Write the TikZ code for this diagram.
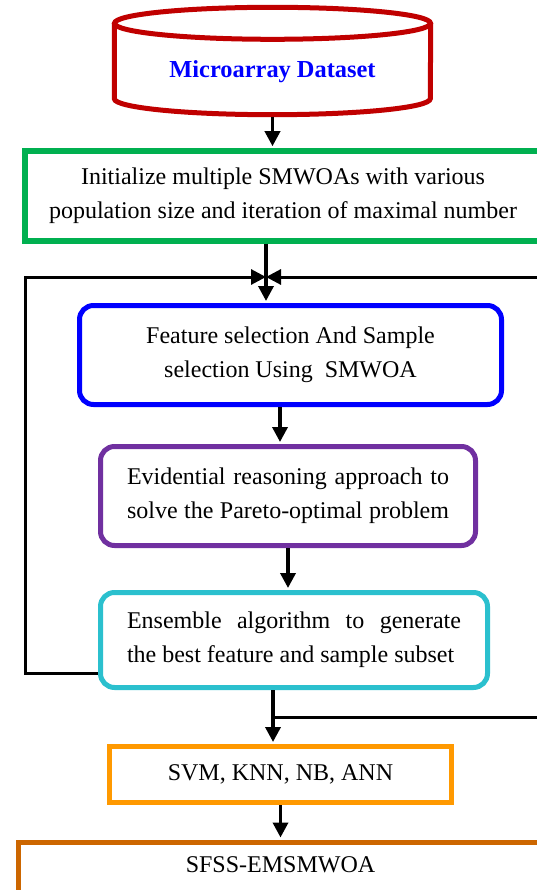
\documentclass[tikz,border=0pt]{standalone}
\usepackage{fontspec}
\setmainfont{Liberation Serif}
\usetikzlibrary{positioning,arrows.meta}
\definecolor{dbred}{HTML}{C00000}
\definecolor{initgreen}{HTML}{00B050}
\definecolor{erpurple}{HTML}{7030A0}
\definecolor{ensteal}{HTML}{2BC0CE}
\definecolor{clforange}{HTML}{FF9900}
\definecolor{outbrown}{HTML}{CC6600}
\tikzset{
	every node/.style = {font=\fontsize{24}{34}\selectfont, inner sep = 0},
	>={Triangle[length=15pt,width=15pt]},
	box/.style={draw, line width=5pt, align=center},
	arr/.style={->, line width=3.5pt, shorten >=2pt},
	loop/.style={->, line width=3pt}
}
\begin{document}
\begin{tikzpicture}[x=1pt,y=-1pt]
		\useasboundingbox (0,0) rectangle (537,890);
		\clip (0,0) rectangle (537,890);
		\node(data)[minimum width=316, minimum height=53, text=blue, font=\fontsize{24.4}{30}\selectfont\bfseries] at (272.5,72) {Microarray Dataset};
		\draw[dbred, line width=5pt] ([yshift=22pt]data.north) ellipse [x radius=158pt, y radius=16pt];
		\draw[dbred, line width=5pt] ([yshift=22pt]data.north west) -- (data.south west) arc[start angle=180, end angle=360, x radius=158pt, y radius=16pt] -- ([yshift=22pt]data.north east);
		\node(init)[box, draw=initgreen, line width=6pt, minimum width=516, minimum height=89.5] at (283,196) {Initialize multiple SMWOAs with various\\population size and iteration of maximal number};
		\node(feat)[box, draw=blue, rounded corners=14pt, minimum width=422, minimum height=99] at (290.5,355) {Feature selection And Sample\\selection Using \ SMWOA};
		\node(er)[box, draw=erpurple, rounded corners=14pt, minimum width=375, minimum height=99] at (288,496) {\makebox[322pt][s]{Evidential reasoning approach to}\\\makebox[322pt][s]{solve the Pareto-optimal problem}};
		\node(ens)[box, draw=ensteal, rounded corners=14pt, minimum width=387, minimum height=95] at (294,640) {\makebox[334pt][s]{Ensemble algorithm to generate}\\\makebox[334pt][l]{the best feature and sample subset}};
		\node(svm)[box, draw=clforange, minimum width=342, minimum height=56] at (280.5,774.5) {SVM, KNN, NB, ANN};
		\node(final)[box, draw=outbrown, anchor=north west, minimum width=525, text height=30, text depth=40] at (15.5,839.5) {SFSS-EMSMWOA};
		
		\coordinate (jn) at (266,277);
		\coordinate (lc) at (25,277);
		\coordinate (rc) at (560,277);
		\coordinate (br) at (273,717);
		
		\draw[arr] ([yshift=-18pt]data.south) -- (data.south |- init.north);
		\draw[arr] (init.south -| jn) -- (feat.north -| jn);
		\draw[arr] ([xshift=-8pt]er.north |- feat.south) -- ([xshift=-8pt]er.north);
		\draw[arr] (er.south) -- (er.south |- ens.north);
		\draw[arr] (ens.south -| br) -- (svm.north -| br);
		\draw[arr] (svm.south -| final.north) -- (final.north);
		\draw[loop] ([yshift=-33pt]ens.west) -| (lc) -- (jn);
		\draw[loop] (br) -| (rc) -- (jn);
		\end{tikzpicture}
\end{document}
